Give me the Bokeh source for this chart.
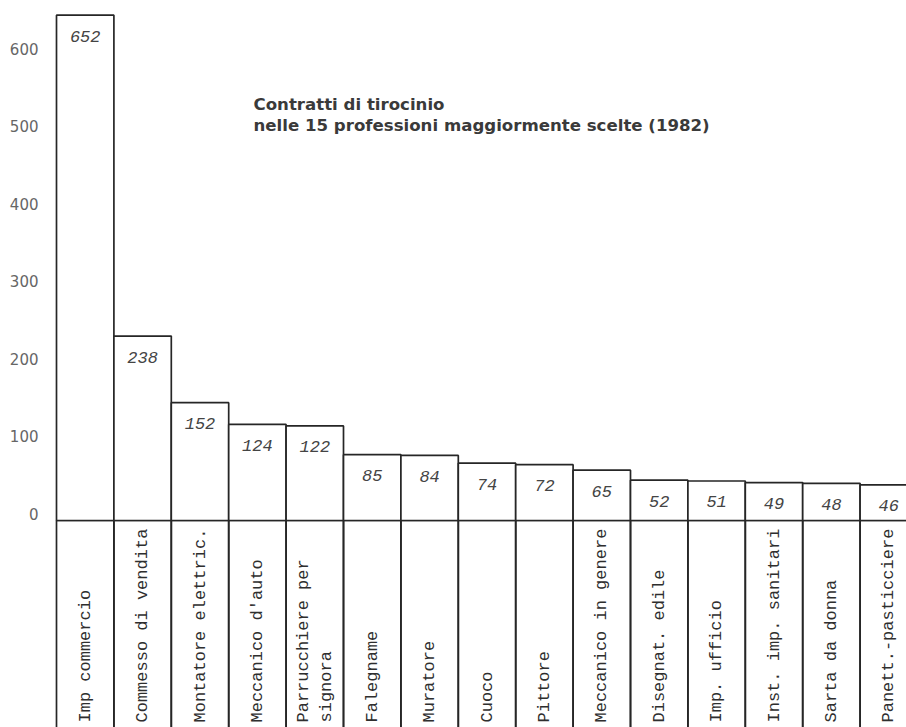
import math
from bokeh.plotting import figure
from bokeh.models import Range1d, FixedTicker, ColumnDataSource, Label, LinearAxis
from bokeh.core.properties import value
from bokeh.embed import file_html
from bokeh.resources import INLINE

# ---- data ----
professions = [
    "Imp commercio", "Commesso di vendita", "Montatore elettric.", "Meccanico d'auto",
    "Parrucchiere per\nsignora", "Falegname", "Muratore", "Cuoco", "Pittore",
    "Meccanico in genere", "Disegnat. edile", "Imp. ufficio", "Inst. imp. sanitari",
    "Sarta da donna", "Panett.-pasticciere",
]
contracts = [652, 238, 152, 124, 122, 85, 84, 74, 72, 65, 52, 51, 49, 48, 46]
y_ticks = [0, 100, 200, 300, 400, 500, 600]
title_text = "Contratti di tirocinio\nnelle 15 professioni maggiormente scelte (1982)"

# ---- layout helpers (figure pixel -> data) ----
W, H = 906, 727
BORDER_L = 54
PX_X = 57.4          # px per category
PX_Y = 0.775         # px per unit
ZERO_PX = 520
x_start = -2 / PX_X
x_end = x_start + (W - BORDER_L) / PX_X
y_top = ZERO_PX / PX_Y
y_bot = -(H - ZERO_PX) / PX_Y
LABEL_SHIFT = 7 / PX_Y   # tick labels sit slightly above their level

def dx(px):
    return x_start + (px - BORDER_L) / PX_X

def dy(py):
    return (ZERO_PX - py) / PX_Y

n = len(contracts)
idx = list(range(n))
src = ColumnDataSource(dict(
    left=idx,
    right=[i + 1 for i in idx],
    mid=[i + 0.5 for i in idx],
    top=contracts,
    bottom=[0] * n,
    lab=[str(v) for v in contracts],
    cat=professions,
    low=[y_bot - 50] * n,
    zero=[0] * n,
    caty=[dy(722)] * n,
))

p = figure(width=W, height=H, output_backend="svg", toolbar_location=None,
           x_range=Range1d(x_start, x_end), y_range=Range1d(y_bot, y_top),
           x_axis_location=None, y_axis_location=None,
           min_border_left=BORDER_L, min_border_right=0, min_border_top=0,
           min_border_bottom=0)
p.xgrid.visible = False
p.ygrid.visible = False
p.outline_line_color = None
p.background_fill_color = "white"

p.extra_y_ranges = {"lab": Range1d(y_bot - LABEL_SHIFT, y_top - LABEL_SHIFT)}

ink = "#262626"
# label cells below the baseline
p.quad(left="left", right="right", bottom="low", top="zero", source=src,
       fill_color=None, line_color=ink, line_width=1.7)
# bars
p.quad(left="left", right="right", bottom="bottom", top="top", source=src,
       fill_color="white", line_color=ink, line_width=1.7)

# values
p.text(x="mid", y="top", text="lab", source=src, text_align="center",
       text_baseline="middle", y_offset=21,
       text_font=value("Liberation Mono"), text_font_style="italic",
       text_font_size="17px", text_color="#444444")

# category labels (rotated)
p.text(x="mid", y="caty", text="cat", source=src, angle=math.pi / 2,
       text_align="left", text_baseline="middle",
       text_font=value("Liberation Mono"), text_font_size="17px",
       text_color="#2e2e2e")

# y axis (labels)
ax = LinearAxis(y_range_name="lab", ticker=FixedTicker(ticks=y_ticks))
ax.axis_line_color = None
ax.major_tick_in = 0
ax.major_tick_out = 0
ax.major_tick_line_color = None
ax.minor_tick_line_color = None
ax.major_label_standoff = 16
ax.major_label_text_font = "DejaVu Sans"
ax.major_label_text_font_size = "15px"
ax.major_label_text_color = "#666666"
p.add_layout(ax, "left")

# title
p.add_layout(Label(x=dx(253), y=dy(94), text=title_text,
                   text_font="DejaVu Sans", text_font_style="bold",
                   text_font_size="16.6px", text_color="#3a3a3a",
                   text_line_height=1.15,
                   text_align="left", text_baseline="top"))

open("out.html", "w").write(file_html(p, INLINE))
